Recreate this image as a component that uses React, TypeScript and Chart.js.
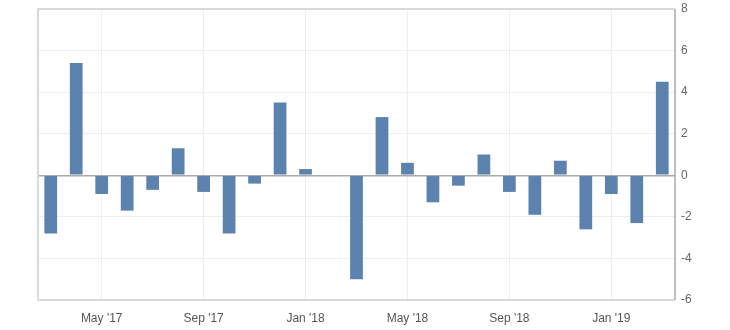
import React, { useEffect, useRef } from "react";
import { Chart, registerables } from "chart.js";

Chart.register(...registerables);

const months = [
  "Mar '17", "Apr '17", "May '17", "Jun '17", "Jul '17", "Aug '17", "Sep '17", "Oct '17", "Nov '17", "Dec '17",
  "Jan '18", "Feb '18", "Mar '18", "Apr '18", "May '18", "Jun '18", "Jul '18", "Aug '18", "Sep '18", "Oct '18",
  "Nov '18", "Dec '18", "Jan '19", "Feb '19", "Mar '19",
];
const values: (number | null)[] = [
  -2.8, 5.4, -0.9, -1.7, -0.7, 1.3, -0.8, -2.8, -0.4, 3.5,
  0.3, null, -5.0, 2.8, 0.6, -1.3, -0.5, 1.0, -0.8, -1.9,
  0.7, -2.6, -0.9, -2.3, 4.5,
];
const shownLabels = ["May '17", "Sep '17", "Jan '18", "May '18", "Sep '18", "Jan '19"];
const yMin = -6;
const yMax = 8;
const yStep = 2;

const borderPlugin = {
  id: "plotBorder",
  afterDraw(chart: any) {
    const { ctx, chartArea } = chart;
    ctx.save();
    ctx.strokeStyle = "#d9d9d9";
    ctx.lineWidth = 2;
    ctx.beginPath();
    ctx.moveTo(chartArea.right, chartArea.top);
    ctx.lineTo(chartArea.left, chartArea.top);
    ctx.lineTo(chartArea.left, chartArea.bottom);
    ctx.lineTo(chartArea.right, chartArea.bottom);
    ctx.stroke();
    ctx.strokeStyle = "#a8a8a8";
    ctx.lineWidth = 1.5;
    ctx.beginPath();
    ctx.moveTo(chartArea.right, chartArea.top);
    ctx.lineTo(chartArea.right, chartArea.bottom);
    ctx.stroke();
    ctx.restore();
  },
};

export default function App() {
  const ref = useRef<HTMLCanvasElement | null>(null);
  useEffect(() => {
    if (!ref.current) return;
    const chart = new Chart(ref.current, {
      type: "bar",
      data: {
        labels: months,
        datasets: [
          {
            data: values,
            backgroundColor: "#5c82ae",
            borderWidth: 0,
            barPercentage: 0.5,
            categoryPercentage: 1,
          },
        ],
      },
      options: {
        animation: false,
        responsive: false,
        maintainAspectRatio: false,
        layout: { padding: { left: 38, top: 9, right: 0, bottom: 0 } },
        plugins: { legend: { display: false }, tooltip: { enabled: false } },
        scales: {
          x: {
            offset: true,
            grid: {
              offset: false,
              drawTicks: false,
              color: (c: any) => (shownLabels.includes(months[c.index]) ? "#eeeeee" : "rgba(0,0,0,0)"),
              lineWidth: 1,
            },
            border: { display: false },
            ticks: {
              autoSkip: false,
              maxRotation: 0,
              padding: 11,
              color: "#555555",
              font: { family: "'Liberation Sans', Arial, sans-serif", size: 12 },
              callback: (_v: any, i: number) => (shownLabels.includes(months[i]) ? months[i] : ""),
            },
            afterFit: (s: any) => {
              s.height = 30;
              s.paddingLeft = 0;
              s.paddingRight = 0;
            },
          },
          y: {
            position: "right",
            min: yMin,
            max: yMax,
            grid: {
              drawTicks: false,
              color: (c: any) => (c.tick && c.tick.value === 0 ? "#aaaaaa" : "#eeeeee"),
              lineWidth: (c: any) => (c.tick && c.tick.value === 0 ? 1.5 : 1),
            },
            border: { display: false },
            ticks: {
              stepSize: yStep,
              padding: 6,
              color: "#666666",
              font: { family: "'Liberation Sans', Arial, sans-serif", size: 12 },
            },
            afterFit: (s: any) => {
              s.width = 55;
              s.paddingTop = 0;
              s.paddingBottom = 0;
            },
          },
        },
      },
      plugins: [borderPlugin],
    });
    return () => chart.destroy();
  }, []);
  return (
    <div style={{ position: "absolute", left: 0, top: 0, width: 730, height: 330, background: "#fff" }}>
      <canvas ref={ref} width={730} height={330} />
    </div>
  );
}
